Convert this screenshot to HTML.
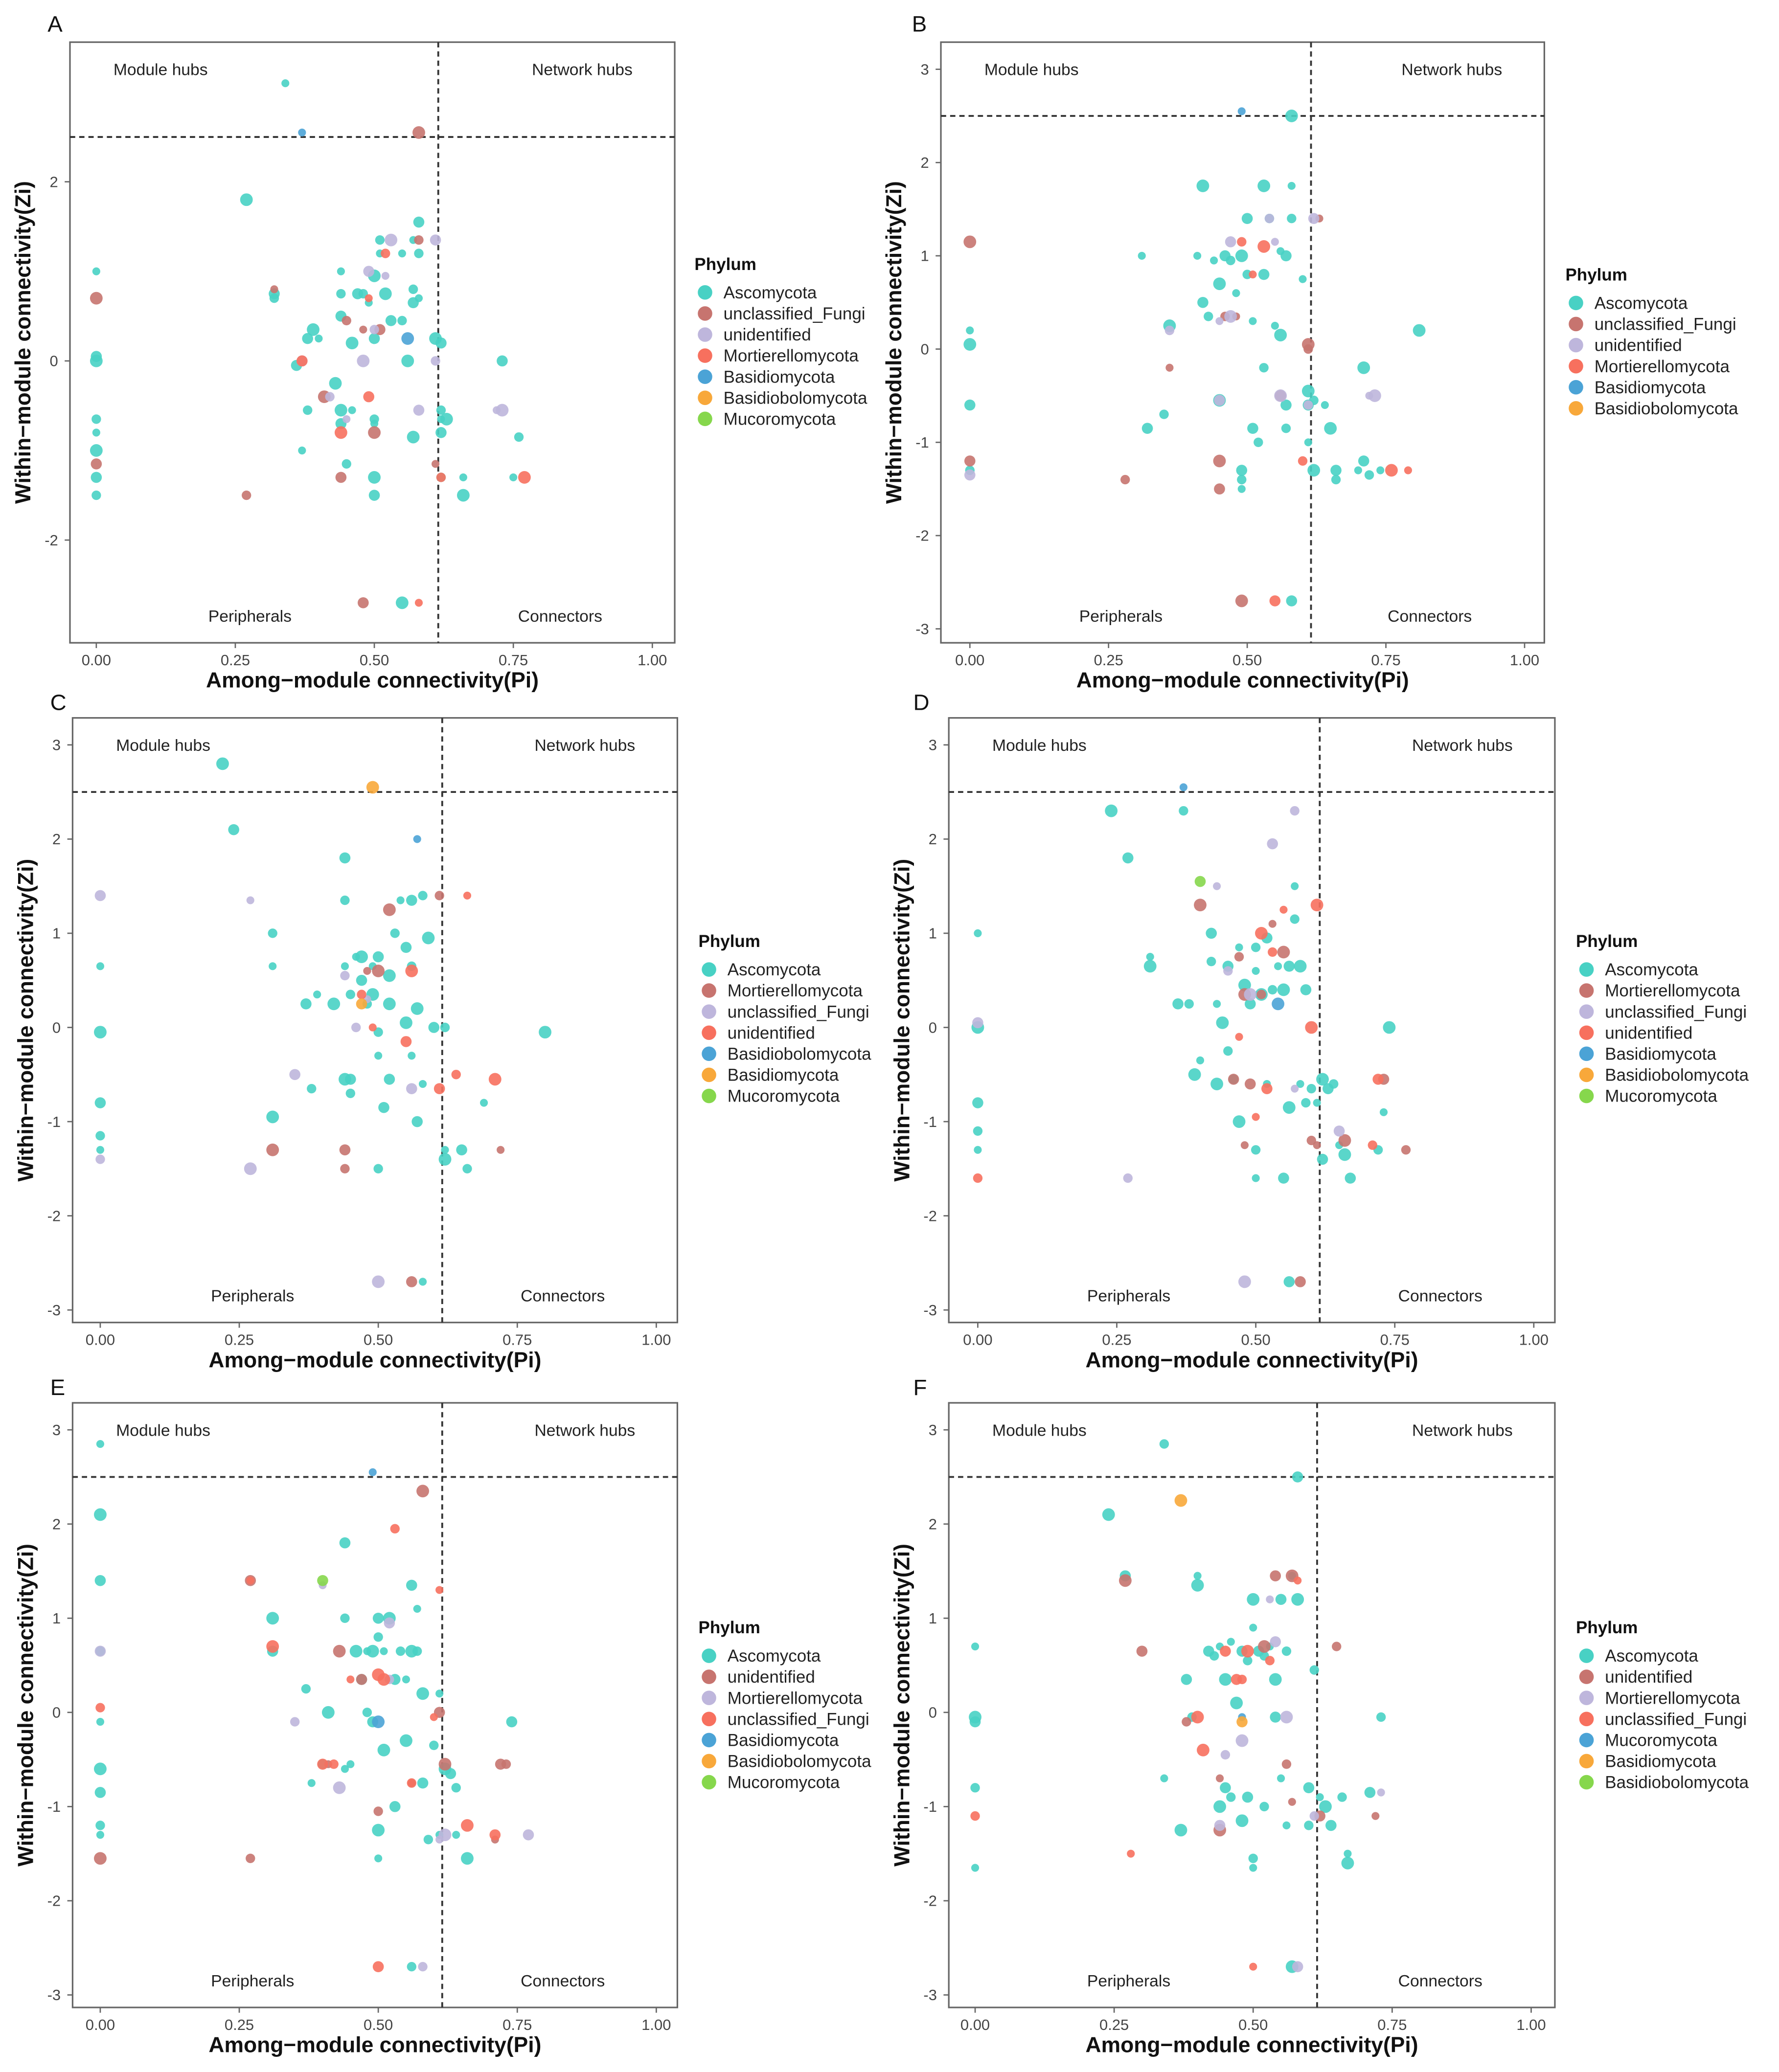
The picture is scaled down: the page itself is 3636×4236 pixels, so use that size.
<!DOCTYPE html>
<html><head><meta charset="utf-8"><style>
html,body{margin:0;padding:0;background:#fff;}
svg{display:block;}
text{font-family:"Liberation Sans",Arial,sans-serif;}
</style></head><body>
<svg id="fig" width="3636" height="4236" viewBox="0 0 1350 1573" xmlns="http://www.w3.org/2000/svg"></svg>
<script>
// ---- Data: [Pi, Zi] pairs per phylum per panel ----
const A_asco=[[0,1.0],[0,0.0],[0,0.05],[0,-0.65],[0,-0.8],[0,-1.0],[0,-1.3],[0,-1.5],[0.34,3.1],[0.27,1.8],[0.32,0.75],[0.32,0.7],[0.40,0.25],[0.39,0.35],[0.38,0.25],[0.38,-0.55],[0.37,-1.0],[0.43,-0.25],[0.44,0.5],[0.44,0.75],[0.44,1.0],[0.44,-0.55],[0.44,-0.7],[0.45,-1.15],[0.46,-0.55],[0.46,0.2],[0.47,0.75],[0.48,0.75],[0.49,0.65],[0.50,0.95],[0.50,0.25],[0.50,-0.65],[0.50,-0.7],[0.50,-1.3],[0.50,-1.5],[0.51,1.35],[0.51,1.2],[0.52,0.75],[0.53,0.45],[0.55,0.45],[0.55,1.2],[0.56,0.0],[0.57,0.65],[0.57,0.8],[0.57,1.35],[0.57,-0.85],[0.58,1.55],[0.58,1.2],[0.58,0.7],[0.61,0.25],[0.62,0.2],[0.62,-0.55],[0.62,-0.65],[0.63,-0.65],[0.62,-0.8],[0.62,-1.3],[0.66,-1.3],[0.66,-1.5],[0.73,0.0],[0.76,-0.85],[0.75,-1.3],[0.55,-2.7],[0.36,-0.05]];
const A_uncl=[[0,0.7],[0,-1.15],[0.27,-1.5],[0.32,0.8],[0.41,-0.4],[0.44,-1.3],[0.45,0.45],[0.48,0.35],[0.50,-0.8],[0.51,0.35],[0.58,1.35],[0.61,-1.15],[0.58,2.55],[0.48,-2.7]];
const A_unid=[[0.37,0.0],[0.42,-0.4],[0.45,-0.65],[0.48,0.0],[0.49,1.0],[0.50,0.35],[0.52,0.95],[0.53,1.35],[0.61,1.35],[0.61,0.0],[0.72,-0.55],[0.73,-0.55],[0.58,-0.55]];
const A_mort=[[0.52,1.2],[0.49,0.7],[0.44,-0.8],[0.49,-0.4],[0.62,-1.3],[0.58,-2.7],[0.77,-1.3],[0.37,0.0]];
const A_basi=[[0.37,2.55],[0.56,0.25]];
const A_bbol=[];
const A_muco=[];

const B_asco=[[0,0.2],[0,0.05],[0,-0.6],[0,-1.3],[0.31,1.0],[0.36,0.25],[0.32,-0.85],[0.35,-0.7],[0.41,1.0],[0.42,1.75],[0.42,0.5],[0.43,0.35],[0.44,0.95],[0.45,0.7],[0.46,1.0],[0.47,0.95],[0.48,0.6],[0.49,1.0],[0.50,1.4],[0.50,0.8],[0.51,0.3],[0.53,1.75],[0.53,0.8],[0.54,1.4],[0.55,0.25],[0.56,0.15],[0.57,1.0],[0.58,1.4],[0.58,1.75],[0.58,2.5],[0.57,-0.6],[0.57,-0.85],[0.60,0.75],[0.61,-0.45],[0.61,-0.6],[0.62,-0.55],[0.64,-0.6],[0.65,-0.85],[0.66,-1.3],[0.66,-1.4],[0.61,-1.0],[0.62,-1.3],[0.49,-1.3],[0.49,-1.4],[0.49,-1.5],[0.45,-0.55],[0.51,-0.85],[0.52,-1.0],[0.70,-1.3],[0.71,-0.2],[0.71,-1.2],[0.72,-1.35],[0.74,-1.3],[0.81,0.2],[0.58,-2.7],[0.53,-0.2],[0.56,1.05]];
const B_uncl=[[0,1.15],[0,-1.2],[0.28,-1.4],[0.36,-0.2],[0.45,-1.2],[0.45,-1.5],[0.46,0.35],[0.48,0.35],[0.49,-2.7],[0.56,-0.5],[0.61,0.0],[0.63,1.4],[0.61,0.05]];
const B_unid=[[0,-1.35],[0.36,0.2],[0.45,0.3],[0.47,0.35],[0.47,1.15],[0.54,1.4],[0.55,1.15],[0.56,-0.5],[0.62,1.4],[0.61,-0.6],[0.72,-0.5],[0.73,-0.5],[0.45,-0.55]];
const B_mort=[[0.49,1.15],[0.51,0.8],[0.53,1.1],[0.55,-2.7],[0.60,-1.2],[0.79,-1.3],[0.76,-1.3]];
const B_basi=[[0.49,2.55]];
const B_bbol=[];

const C_asco=[[0,0.65],[0,-0.05],[0,-0.8],[0,-1.15],[0,-1.3],[0.22,2.8],[0.24,2.1],[0.31,1.0],[0.31,0.65],[0.31,-0.95],[0.37,0.25],[0.38,-0.65],[0.39,0.35],[0.42,0.25],[0.44,1.8],[0.44,1.35],[0.44,0.65],[0.44,-0.55],[0.45,-0.55],[0.45,-0.7],[0.46,0.75],[0.47,0.75],[0.47,0.5],[0.48,0.25],[0.49,0.65],[0.49,0.35],[0.50,0.75],[0.50,-1.5],[0.50,-0.3],[0.52,0.55],[0.52,-0.55],[0.53,1.0],[0.54,1.35],[0.55,0.05],[0.56,1.35],[0.56,0.65],[0.56,-0.3],[0.57,0.2],[0.57,-1.0],[0.58,1.4],[0.58,-2.7],[0.59,0.95],[0.60,0.0],[0.62,0.0],[0.62,-1.3],[0.62,-1.4],[0.65,-1.3],[0.66,-1.5],[0.69,-0.8],[0.80,-0.05],[0.51,-0.85],[0.50,-0.05],[0.58,-0.6],[0.52,0.25],[0.55,0.85],[0.45,0.35]];
const C_mort=[[0.31,-1.3],[0.44,-1.3],[0.44,-1.5],[0.48,0.6],[0.52,1.25],[0.56,-2.7],[0.61,1.4],[0.72,-1.3],[0.50,0.6]];
const C_uncl=[[0,1.4],[0,-1.4],[0.27,1.35],[0.27,-1.5],[0.35,-0.5],[0.46,0.0],[0.48,0.3],[0.50,-2.7],[0.56,-0.65],[0.44,0.55]];
const C_unid=[[0.47,0.35],[0.49,0.0],[0.56,0.6],[0.61,-0.65],[0.64,-0.5],[0.66,1.4],[0.71,-0.55],[0.55,-0.15]];
const C_bbol=[[0.57,2.0]];
const C_basi=[[0.49,2.55],[0.47,0.25]];
const C_muco=[];

const D_asco=[[0,1.0],[0,0.0],[0,-0.8],[0,-1.1],[0,-1.3],[0.24,2.3],[0.27,1.8],[0.37,2.3],[0.31,0.75],[0.31,0.65],[0.36,0.25],[0.38,0.25],[0.40,-0.35],[0.39,-0.5],[0.42,1.0],[0.42,0.7],[0.43,0.25],[0.44,0.05],[0.45,0.65],[0.46,-0.55],[0.47,0.85],[0.48,0.45],[0.49,0.25],[0.50,0.85],[0.50,0.6],[0.51,0.35],[0.52,0.95],[0.53,0.4],[0.54,0.65],[0.55,0.4],[0.56,0.65],[0.57,1.15],[0.57,1.5],[0.58,0.65],[0.59,0.4],[0.60,-0.65],[0.61,-0.8],[0.62,-0.55],[0.63,-0.65],[0.64,-0.6],[0.65,-1.25],[0.66,-1.35],[0.67,-1.6],[0.72,-1.3],[0.73,-0.9],[0.74,0.0],[0.55,-1.6],[0.50,-1.3],[0.50,-1.6],[0.56,-0.85],[0.56,-2.7],[0.45,-0.25],[0.52,-0.6],[0.47,-1.0],[0.62,-1.4],[0.59,-0.8],[0.58,-0.6],[0.43,-0.6]];
const D_mort=[[0.40,1.3],[0.46,-0.55],[0.47,0.75],[0.48,-1.25],[0.48,0.35],[0.49,-0.6],[0.51,0.35],[0.53,1.1],[0.55,0.8],[0.58,-2.7],[0.60,-1.2],[0.61,-1.25],[0.66,-1.2],[0.73,-0.55],[0.77,-1.3]];
const D_uncl=[[0,0.05],[0.27,-1.6],[0.43,1.5],[0.48,-2.7],[0.53,1.95],[0.57,2.3],[0.57,-0.65],[0.49,0.35],[0.65,-1.1],[0.45,0.6]];
const D_unid=[[0,-1.6],[0.47,-0.1],[0.51,1.0],[0.52,-0.65],[0.53,0.8],[0.55,1.25],[0.61,1.3],[0.72,-0.55],[0.71,-1.25],[0.50,-0.95],[0.60,0.0]];
const D_basi=[[0.37,2.55],[0.54,0.25]];
const D_bbol=[];
const D_muco=[[0.40,1.55]];

const E_asco=[[0,2.85],[0,2.1],[0,1.4],[0,0.65],[0,-0.1],[0,-0.6],[0,-0.85],[0,-1.2],[0,-1.3],[0.31,1.0],[0.31,0.65],[0.37,0.25],[0.38,-0.75],[0.41,0.0],[0.44,1.8],[0.44,1.0],[0.45,-0.55],[0.46,0.65],[0.47,0.35],[0.48,0.0],[0.48,0.65],[0.49,0.65],[0.50,1.0],[0.50,0.8],[0.51,0.65],[0.52,1.0],[0.53,0.35],[0.54,0.65],[0.55,0.35],[0.56,0.65],[0.56,1.35],[0.57,0.65],[0.57,1.1],[0.58,0.2],[0.58,-0.75],[0.60,-0.35],[0.61,0.2],[0.62,-0.6],[0.63,-0.65],[0.64,-0.8],[0.64,-1.3],[0.66,-1.55],[0.74,-0.1],[0.56,-2.7],[0.50,-1.55],[0.50,-1.25],[0.49,-0.1],[0.40,-0.55],[0.44,-0.6],[0.51,-0.4],[0.53,-1.0],[0.59,-1.35],[0.61,-1.3],[0.55,-0.3]];
const E_unid=[[0,-1.55],[0.27,1.4],[0.27,-1.55],[0.41,-0.55],[0.43,0.65],[0.47,0.35],[0.50,-1.05],[0.56,-0.75],[0.62,-0.55],[0.72,-0.55],[0.73,-0.55],[0.71,-1.35],[0.58,2.35],[0.61,0.0]];
const E_mort=[[0,0.65],[0.35,-0.1],[0.40,1.35],[0.43,-0.8],[0.52,0.95],[0.58,-2.7],[0.61,-1.35],[0.62,-1.3],[0.77,-1.3],[0.52,0.35]];
const E_uncl=[[0,0.05],[0.27,1.4],[0.31,0.7],[0.40,-0.55],[0.42,-0.55],[0.45,0.35],[0.50,0.4],[0.50,-2.7],[0.53,1.95],[0.60,-0.05],[0.66,-1.2],[0.71,-1.3],[0.56,-0.75],[0.61,1.3],[0.51,0.35]];
const E_basi=[[0.49,2.55],[0.50,-0.1]];
const E_bbol=[];
const E_muco=[[0.40,1.4]];

const F_asco=[[0,0.7],[0,-0.05],[0,-0.1],[0,-0.8],[0,-1.65],[0.24,2.1],[0.27,1.45],[0.34,2.85],[0.34,-0.7],[0.37,-1.25],[0.38,0.35],[0.39,-0.05],[0.40,1.45],[0.40,1.35],[0.42,0.65],[0.43,0.6],[0.44,0.7],[0.45,0.35],[0.45,-0.8],[0.46,-0.9],[0.46,0.75],[0.47,0.1],[0.48,0.65],[0.49,0.55],[0.50,0.9],[0.50,1.2],[0.51,0.65],[0.52,0.6],[0.53,0.7],[0.54,0.35],[0.55,1.2],[0.56,0.65],[0.57,1.45],[0.58,1.2],[0.58,2.5],[0.50,-1.55],[0.50,-1.65],[0.48,-1.15],[0.49,-0.9],[0.52,-1.0],[0.56,-1.2],[0.57,-2.7],[0.60,-0.8],[0.61,0.45],[0.62,-0.9],[0.63,-1.0],[0.64,-1.2],[0.66,-0.9],[0.67,-1.5],[0.67,-1.6],[0.71,-0.85],[0.73,-0.05],[0.55,-0.7],[0.44,-1.0],[0.54,-0.05],[0.60,-1.2]];
const F_unid=[[0.27,1.4],[0.30,0.65],[0.38,-0.1],[0.44,-0.7],[0.52,0.7],[0.54,1.45],[0.56,-0.55],[0.57,-0.95],[0.57,1.45],[0.62,-1.1],[0.65,0.7],[0.72,-1.1],[0.44,-1.25]];
const F_mort=[[0.44,-1.2],[0.45,-0.45],[0.53,1.2],[0.56,-0.05],[0.58,-2.7],[0.61,-1.1],[0.73,-0.85],[0.48,-0.3],[0.54,0.75]];
const F_uncl=[[0,-1.1],[0.28,-1.5],[0.41,-0.4],[0.47,0.35],[0.48,0.35],[0.50,-2.7],[0.49,0.65],[0.45,0.65],[0.53,0.55],[0.58,1.4],[0.40,-0.05]];
const F_muco=[[0.48,-0.05]];
const F_basi=[[0.37,2.25],[0.48,-0.1]];
const F_bbol=[];

const xTicks=[0,0.25,0.5,0.75,1.0];
const xTickLabels=["0.00","0.25","0.50","0.75","1.00"];
const yTicksA=[-2,0,2];
const yTicksB=[-3,-2,-1,0,1,2,3];
const PiCut=0.615, ZiCut=2.5;
const PAL=["#48D1C4","#C7746F","#BEB6DC","#F7705E","#4BA3D6","#F8A83A","#86D74C"];

const panels=[
 {id:"A",lab:[36,24],box:[53,32,512,488],x0:73,x1:495,yz:274,yk:68,yt:yTicksA,leg:[527,205],
  series:[["Ascomycota",A_asco],["unclassified_Fungi",A_uncl],["unidentified",A_unid],["Mortierellomycota",A_mort],["Basidiomycota",A_basi],["Basidiobolomycota",A_bbol],["Mucoromycota",A_muco]]},
 {id:"B",lab:[692,24],box:[714,32,1172,488],x0:736,x1:1157,yz:265,yk:70.8,yt:yTicksB,leg:[1188,213],
  series:[["Ascomycota",B_asco],["unclassified_Fungi",B_uncl],["unidentified",B_unid],["Mortierellomycota",B_mort],["Basidiomycota",B_basi],["Basidiobolomycota",B_bbol]]},
 {id:"C",lab:[38,539],box:[55,545,514,1004],x0:76,x1:498,yz:780,yk:71.5,yt:yTicksB,leg:[530,719],
  series:[["Ascomycota",C_asco],["Mortierellomycota",C_mort],["unclassified_Fungi",C_uncl],["unidentified",C_unid],["Basidiobolomycota",C_bbol],["Basidiomycota",C_basi],["Mucoromycota",C_muco]]},
 {id:"D",lab:[693,539],box:[720,545,1180,1004],x0:742,x1:1164,yz:780,yk:71.5,yt:yTicksB,leg:[1196,719],
  series:[["Ascomycota",D_asco],["Mortierellomycota",D_mort],["unclassified_Fungi",D_uncl],["unidentified",D_unid],["Basidiomycota",D_basi],["Basidiobolomycota",D_bbol],["Mucoromycota",D_muco]]},
 {id:"E",lab:[38,1059],box:[55,1065,514,1524],x0:76,x1:498,yz:1300,yk:71.5,yt:yTicksB,leg:[530,1240],
  series:[["Ascomycota",E_asco],["unidentified",E_unid],["Mortierellomycota",E_mort],["unclassified_Fungi",E_uncl],["Basidiomycota",E_basi],["Basidiobolomycota",E_bbol],["Mucoromycota",E_muco]]},
 {id:"F",lab:[693,1059],box:[720,1065,1180,1524],x0:740,x1:1162,yz:1300,yk:71.5,yt:yTicksB,leg:[1196,1240],
  series:[["Ascomycota",F_asco],["unidentified",F_unid],["Mortierellomycota",F_mort],["unclassified_Fungi",F_uncl],["Mucoromycota",F_muco],["Basidiomycota",F_basi],["Basidiobolomycota",F_bbol]]}
];

const NS="http://www.w3.org/2000/svg";
const svg=document.getElementById("fig");
function mk(tag,attrs,parent,txt){const e=document.createElementNS(NS,tag);for(const k in attrs)e.setAttribute(k,attrs[k]);if(txt!==undefined)e.textContent=txt;(parent||svg).appendChild(e);return e;}

panels.forEach(P=>{
  const g=mk("g",{});
  
  
  const xs=p=>P.x0+(P.x1-P.x0)*p;
  const ys=z=>P.yz-P.yk*z;
  const [bx0,by0,bx1,by1]=P.box;
  const pl=mk("text",{x:P.lab[0],y:P.lab[1],"font-size":17,fill:"#111"},g,P.id);
  
  
  const bx=mk("rect",{x:bx0,y:by0,width:bx1-bx0,height:by1-by0,fill:"none",stroke:"#666","stroke-width":1.2},g);
  
  
  xTicks.forEach((t,i)=>{
    mk("line",{x1:xs(t),x2:xs(t),y1:by1,y2:by1+4,stroke:"#666","stroke-width":1},g);
    const tl=mk("text",{x:xs(t),y:by1+17,"font-size":11.5,"text-anchor":"middle",fill:"#444"},g,xTickLabels[i]);
    
    
  });
  P.yt.forEach(t=>{
    mk("line",{x1:bx0-4,x2:bx0,y1:ys(t),y2:ys(t),stroke:"#666","stroke-width":1},g);
    const tl=mk("text",{x:bx0-9,y:ys(t)+4,"font-size":11.5,"text-anchor":"end",fill:"#444"},g,String(t));
    
    
  });
  const vl=mk("line",{x1:xs(PiCut),x2:xs(PiCut),y1:by0,y2:by1,stroke:"#333","stroke-width":1.4,"stroke-dasharray":"4,3"},g);
  
  
  const hl=mk("line",{x1:bx0,x2:bx1,y1:ys(ZiCut),y2:ys(ZiCut),stroke:"#333","stroke-width":1.4,"stroke-dasharray":"4,3"},g);
  
  
  const q=[["Module hubs",bx0+33,by0+25,"start"],["Network hubs",bx1-32,by0+25,"end"],["Peripherals",bx0+105,by1-16,"start"],["Connectors",bx1-55,by1-16,"end"]];
  q.forEach(a=>{const t=mk("text",{x:a[1],y:a[2],"font-size":12.5,"text-anchor":a[3],fill:"#222"},g,a[0]);
    
    });
  const xt=mk("text",{x:(bx0+bx1)/2,y:by1+34,"font-size":16.5,"font-weight":"bold","text-anchor":"middle",fill:"#111"},g,"Among\u2212module connectivity(Pi)");
  
  
  const cy=(by0+by1)/2;
  const yt=mk("text",{x:bx0-30,y:cy,"font-size":16.5,"font-weight":"bold","text-anchor":"middle",fill:"#111",transform:"rotate(-90 "+(bx0-30)+" "+cy+")"},g,"Within\u2212module connectivity(Zi)");
  
  
  P.series.forEach((s,si)=>{
    s[1].forEach((d,di)=>{
      const r=3+((di*7+si*3)%4)*0.6;
      const c=mk("circle",{cx:xs(d[0]),cy:ys(d[1]),r:r,fill:PAL[si],"fill-opacity":0.9},g);
      
      
    });
  });
  const lt=mk("text",{x:P.leg[0],y:P.leg[1],"font-size":13,"font-weight":"bold",fill:"#111"},g,"Phylum");
  
  
  P.series.forEach((s,si)=>{
    const y=P.leg[1]+17+si*16;
    const lc=mk("circle",{cx:P.leg[0]+8,cy:y,r:5.5,fill:PAL[si]},g);
    
    
    const lx=mk("text",{x:P.leg[0]+22,y:y+4.5,"font-size":13,fill:"#222"},g,s[0]);
    
    
  });
});
</script>
</body></html>
